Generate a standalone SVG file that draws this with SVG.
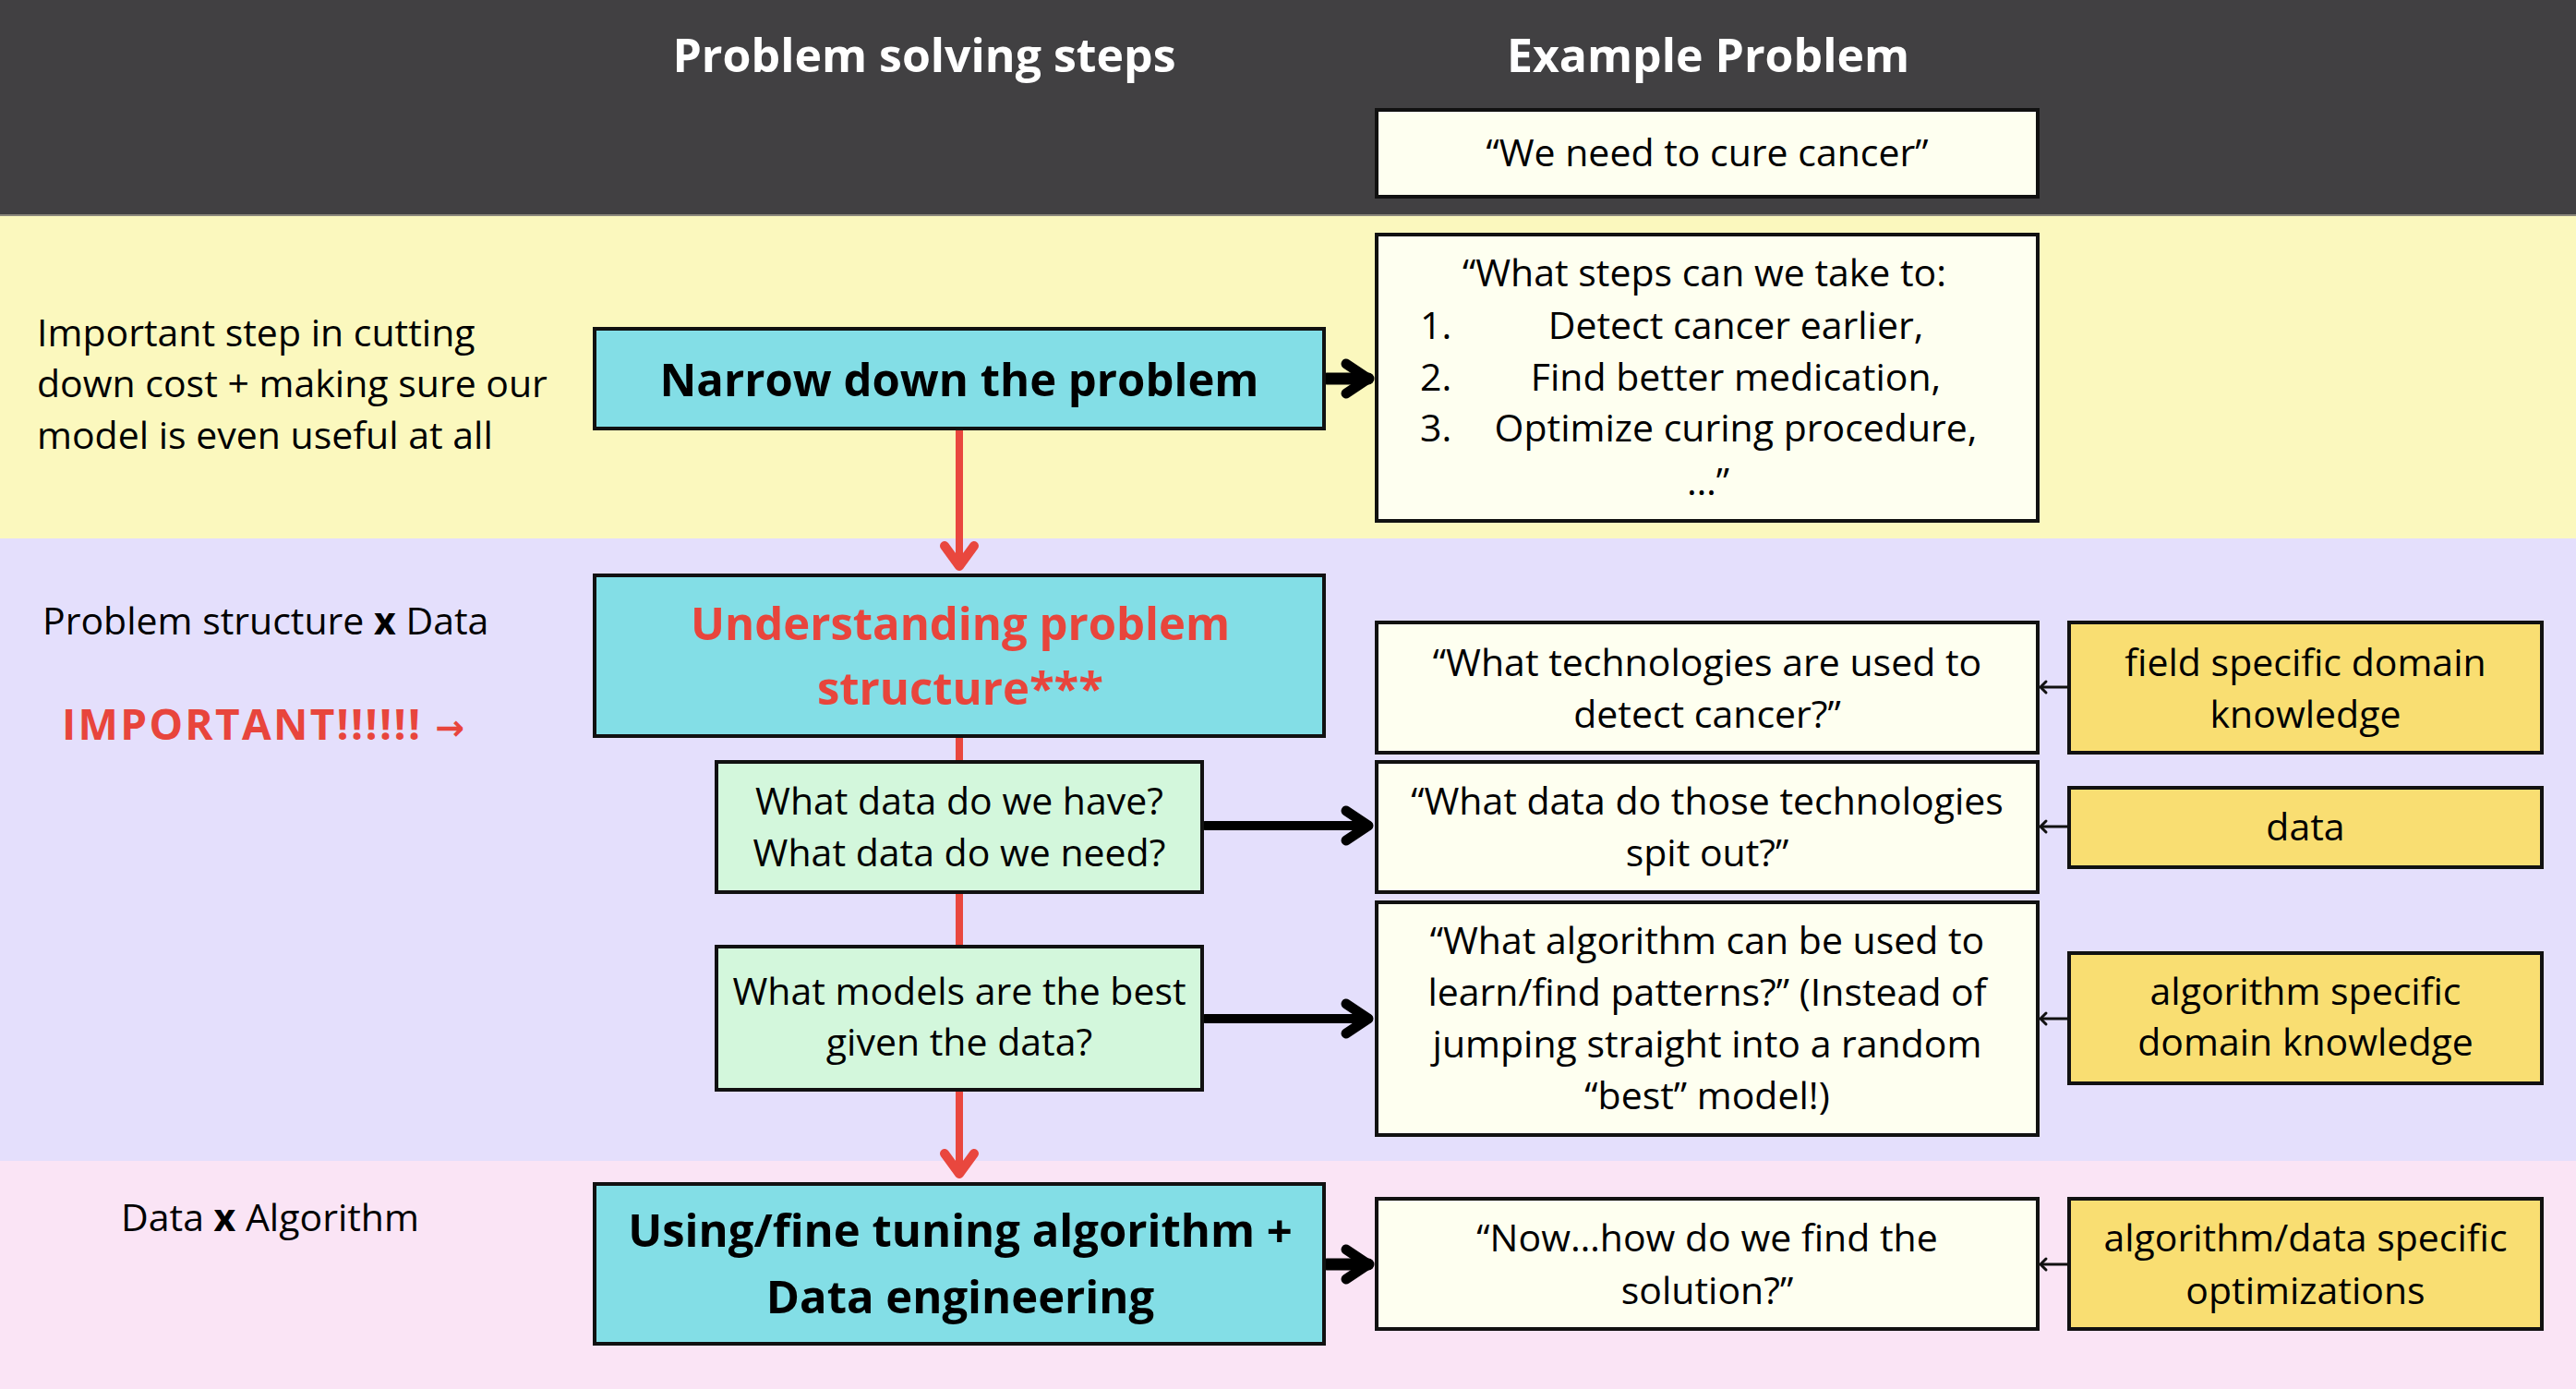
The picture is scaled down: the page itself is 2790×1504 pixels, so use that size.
<svg xmlns="http://www.w3.org/2000/svg" width="2790" height="1504" viewBox="0 0 2790 1504">
<style>
text{font-family:"Open Sans","Liberation Sans",sans-serif;fill:#000}
.t{font-size:41px}
.c{text-anchor:middle}
.h{font-size:50px;font-weight:bold;fill:#fff;text-anchor:middle}
.b{font-size:49px;font-weight:bold;text-anchor:middle}
.red{fill:#E8453C}
.box{stroke:#111;stroke-width:4}
.blue{fill:#83DEE6}
.grn{fill:#D3F7DC}
.wht{fill:#FEFFF0}
.yel{fill:#F9DE72}
.ra{stroke:#E9473E;stroke-width:8;fill:none}
.ka{stroke:#000;fill:none;stroke-linecap:round}
.sa{stroke:#111;stroke-width:3;fill:none}
</style>
<defs>
<marker id="mRed" markerUnits="userSpaceOnUse" markerWidth="60" markerHeight="60" refX="30" refY="30" orient="auto" overflow="visible">
<path d="M8,14 L30,30 L8,46" fill="none" stroke="#E9473E" stroke-width="10" stroke-linecap="round" stroke-linejoin="round"/>
</marker>
<marker id="mBlk" markerUnits="userSpaceOnUse" markerWidth="60" markerHeight="60" refX="30" refY="30" orient="auto" overflow="visible">
<path d="M6,14 L30,30 L6,46" fill="none" stroke="#000" stroke-width="11" stroke-linecap="round" stroke-linejoin="round"/>
</marker>
<marker id="mSm" markerUnits="userSpaceOnUse" markerWidth="20" markerHeight="20" refX="10" refY="10" orient="auto" overflow="visible">
<path d="M4,4 L10,10 L4,16" fill="none" stroke="#111" stroke-width="3" stroke-linecap="round" stroke-linejoin="round"/>
</marker>
</defs>

<g id="bands">
<rect x="0" y="0" width="2790" height="233" fill="#414042"/>
<rect x="0" y="233" width="2790" height="350" fill="#FBF8BE"/>
<rect x="0" y="583" width="2790" height="674" fill="#E4DFFC"/>
<rect x="0" y="1257" width="2790" height="247" fill="#FAE4F5"/>
<line x1="0" y1="233" x2="2790" y2="233" stroke="#8a877c" stroke-width="2"/>
</g>

<g id="headers">
<text class="h" x="1001" y="78">Problem solving steps</text>
<text class="h" x="1850" y="78">Example Problem</text>
</g>

<g id="side-labels">
<text class="t" x="40" y="375">Important step in cutting</text>
<text class="t" x="40" y="430">down cost + making sure our</text>
<text class="t" x="40" y="486">model is even useful at all</text>
<text class="t" x="46" y="687">Problem structure <tspan font-weight="bold">x</tspan> Data</text>
<text class="red" x="67" y="801" font-size="46" font-weight="bold"><tspan letter-spacing="2.3">IMPORTANT!!!!!!</tspan> <tspan font-family="'DejaVu Sans',sans-serif" font-size="38" dx="2">→</tspan></text>
<text class="t" x="131" y="1333">Data <tspan font-weight="bold">x</tspan> Algorithm</text>
</g>

<g id="connectors">
<line class="ra" x1="1039" y1="464" x2="1039" y2="613" marker-end="url(#mRed)"/>
<line class="ra" x1="1039" y1="797" x2="1039" y2="1271" marker-end="url(#mRed)"/>
<line class="ka" x1="1437" y1="410" x2="1482" y2="410" stroke-width="13" marker-end="url(#mBlk)"/>
<line class="ka" x1="1305" y1="894" x2="1482" y2="894" stroke-width="10" marker-end="url(#mBlk)"/>
<line class="ka" x1="1305" y1="1103" x2="1482" y2="1103" stroke-width="10" marker-end="url(#mBlk)"/>
<line class="ka" x1="1437" y1="1369" x2="1482" y2="1369" stroke-width="13" marker-end="url(#mBlk)"/>
<line class="sa" x1="2240" y1="744" x2="2210" y2="744" marker-end="url(#mSm)"/>
<line class="sa" x1="2240" y1="895" x2="2210" y2="895" marker-end="url(#mSm)"/>
<line class="sa" x1="2240" y1="1103" x2="2210" y2="1103" marker-end="url(#mSm)"/>
<line class="sa" x1="2240" y1="1369" x2="2210" y2="1369" marker-end="url(#mSm)"/>
</g>

<g id="n-cure">
<rect class="box wht" x="1491" y="119" width="716" height="94"/>
<text class="t c" x="1849" y="180" font-size="42">“We need to cure cancer”</text>
</g>

<g id="n-steps">
<rect class="box wht" x="1491" y="254" width="716" height="310"/>
<text class="t c" x="1846" y="310">“What steps can we take to:</text>
<text class="t" x="1538" y="367">1.</text>
<text class="t c" x="1880" y="367">Detect cancer earlier,</text>
<text class="t" x="1538" y="423">2.</text>
<text class="t c" x="1880" y="423">Find better medication,</text>
<text class="t" x="1538" y="478">3.</text>
<text class="t c" x="1880" y="478">Optimize curing procedure,</text>
<text class="t c" x="1850" y="536">…”</text>
</g>

<g id="n-narrow">
<rect class="box blue" x="644" y="356" width="790" height="108"/>
<text class="b" x="1039" y="429">Narrow down the problem</text>
</g>

<g id="n-understanding">
<rect class="box blue" x="644" y="623" width="790" height="174"/>
<text class="b red" x="1040" y="693">Understanding problem</text>
<text class="b red" x="1040" y="763">structure***</text>
</g>

<g id="n-data-q">
<rect class="box grn" x="776" y="825" width="526" height="141"/>
<text class="t c" x="1039" y="882">What data do we have?</text>
<text class="t c" x="1039" y="938">What data do we need?</text>
</g>

<g id="n-models-q">
<rect class="box grn" x="776" y="1025" width="526" height="155"/>
<text class="t c" x="1039" y="1088">What models are the best</text>
<text class="t c" x="1039" y="1143">given the data?</text>
</g>

<g id="n-using">
<rect class="box blue" x="644" y="1282" width="790" height="173"/>
<text class="b" x="1040" y="1350">Using/fine tuning algorithm +</text>
<text class="b" x="1040" y="1422">Data engineering</text>
</g>

<g id="n-tech">
<rect class="box wht" x="1491" y="674" width="716" height="141"/>
<text class="t c" x="1849" y="732">“What technologies are used to</text>
<text class="t c" x="1849" y="788">detect cancer?”</text>
</g>

<g id="n-spit">
<rect class="box wht" x="1491" y="825" width="716" height="141"/>
<text class="t c" x="1849" y="882">“What data do those technologies</text>
<text class="t c" x="1849" y="938">spit out?”</text>
</g>

<g id="n-algo">
<rect class="box wht" x="1491" y="977" width="716" height="252"/>
<text class="t c" x="1849" y="1033">“What algorithm can be used to</text>
<text class="t c" x="1849" y="1089">learn/find patterns?” (Instead of</text>
<text class="t c" x="1849" y="1145">jumping straight into a random</text>
<text class="t c" x="1849" y="1201">“best” model!)</text>
</g>

<g id="n-solution">
<rect class="box wht" x="1491" y="1298" width="716" height="141"/>
<text class="t c" x="1849" y="1355">“Now…how do we find the</text>
<text class="t c" x="1849" y="1412">solution?”</text>
</g>

<g id="n-field">
<rect class="box yel" x="2241" y="674" width="512" height="141"/>
<text class="t c" x="2497" y="732">field specific domain</text>
<text class="t c" x="2497" y="788">knowledge</text>
</g>

<g id="n-data">
<rect class="box yel" x="2241" y="853" width="512" height="86"/>
<text class="t c" x="2497" y="910">data</text>
</g>

<g id="n-algo-dk">
<rect class="box yel" x="2241" y="1032" width="512" height="141"/>
<text class="t c" x="2497" y="1088">algorithm specific</text>
<text class="t c" x="2497" y="1143">domain knowledge</text>
</g>

<g id="n-opt">
<rect class="box yel" x="2241" y="1298" width="512" height="141"/>
<text class="t c" x="2497" y="1355">algorithm/data specific</text>
<text class="t c" x="2497" y="1412">optimizations</text>
</g>
</svg>
